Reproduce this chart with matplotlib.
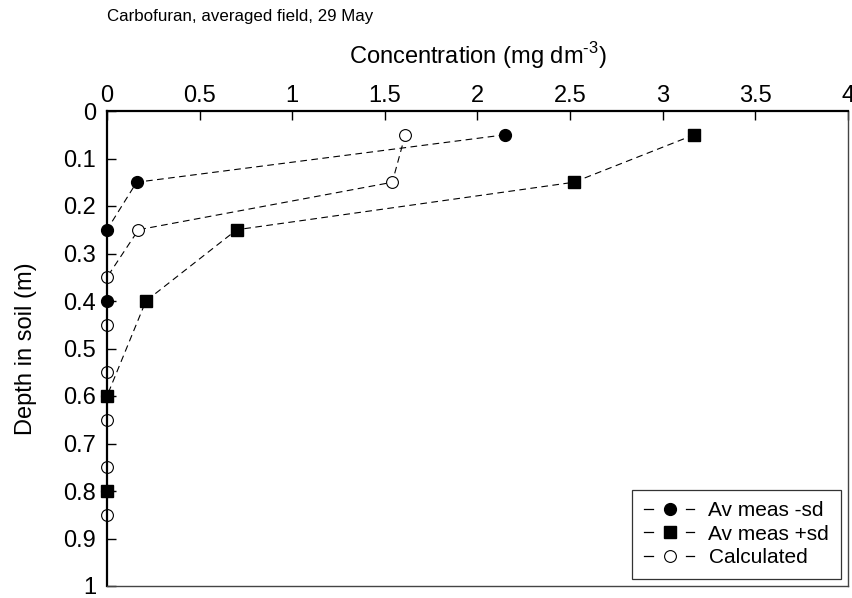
import matplotlib
matplotlib.use("Agg")
import matplotlib.pyplot as plt
from matplotlib.legend_handler import HandlerBase
from matplotlib.lines import Line2D
import numpy as np

plt.rcParams.update({
    "font.family": ["Liberation Sans", "DejaVu Sans"],
    "mathtext.fontset": "custom",
    "mathtext.rm": "Liberation Sans",
})

# depth (m) and concentration (mg dm-3)
depth_minus = [0.05, 0.15, 0.25, 0.4, 0.6, 0.8]
conc_minus = [2.15, 0.16, 0.0, 0.0, 0.0, 0.0]

depth_plus = [0.05, 0.15, 0.25, 0.4, 0.6, 0.8]
conc_plus = [3.17, 2.52, 0.70, 0.21, 0.0, 0.0]

depth_calc = [0.05, 0.15, 0.25, 0.35, 0.45, 0.55, 0.65, 0.75, 0.85]
conc_calc = [1.61, 1.54, 0.17, 0.0, 0.0, 0.0, 0.0, 0.0, 0.0]

x_ticks = [0, 0.5, 1, 1.5, 2, 2.5, 3, 3.5, 4]
y_ticks = np.round(np.arange(0, 1.01, 0.1), 1)


class DashMarkerHandler(HandlerBase):
    """Legend key drawn as: short dash, marker, short dash."""

    def create_artists(self, legend, orig_handle, xdescent, ydescent,
                       width, height, fontsize, trans):
        y = height / 2 - ydescent
        x0 = -xdescent
        left = Line2D([x0, x0 + width * 0.18], [y, y],
                      color="black", linewidth=0.9)
        right = Line2D([x0 + width * 0.84, x0 + width], [y, y],
                       color="black", linewidth=0.9)
        mark = Line2D([x0 + width * 0.52], [y], linestyle="none",
                      marker=orig_handle.get_marker(),
                      markersize=orig_handle.get_markersize(),
                      markerfacecolor=orig_handle.get_markerfacecolor(),
                      markeredgecolor="black",
                      markeredgewidth=orig_handle.get_markeredgewidth())
        for a in (left, right, mark):
            a.set_transform(trans)
        return [left, right, mark]


fig = plt.figure(figsize=(8.53, 5.98), dpi=100)
ax = fig.add_axes([107 / 853, 12 / 598, 741 / 853, 475 / 598])

line_kw = dict(color="black", linestyle=(0, (6, 4)), linewidth=0.8,
               markersize=8.5, clip_on=False)
h1, = ax.plot(conc_minus, depth_minus, marker="o", markerfacecolor="black",
              label="Av meas -sd", **line_kw)
h2, = ax.plot(conc_plus, depth_plus, marker="s", markerfacecolor="black",
              label="Av meas +sd", **line_kw)
h3, = ax.plot(conc_calc, depth_calc, marker="o", markerfacecolor="white",
              markeredgewidth=0.8, label="Calculated", **line_kw)

ax.set_xlim(0, 4)
ax.set_ylim(1, 0)
ax.xaxis.tick_top()
ax.xaxis.set_label_position("top")
ax.set_xticks(x_ticks)
ax.set_xticklabels([f"{t:g}" for t in x_ticks])
ax.set_yticks(y_ticks)
ax.set_yticklabels([f"{t:g}" for t in y_ticks])
ax.tick_params(direction="in", length=6.5, width=1, labelsize=17)
ax.tick_params(axis="x", pad=3)
ax.tick_params(axis="y", pad=8)
for side in ("top", "left"):
    ax.spines[side].set_linewidth(1.6)
for side in ("bottom", "right"):
    ax.spines[side].set_linewidth(1.0)
    ax.spines[side].set_color("#444444")

ax.set_xlabel(r"Concentration (mg dm$^{\text{-3}}$)", fontsize=17, labelpad=15)
ax.set_ylabel("Depth in soil (m)", fontsize=17, labelpad=18.5)

fig.text(107 / 853, 1 - 17 / 598, "Carbofuran, averaged field, 29 May",
         fontsize=12.2, va="center", ha="left")

leg = ax.legend(handles=[h1, h2, h3], loc="lower right", fontsize=15,
                frameon=True, fancybox=False, edgecolor="black",
                handler_map={Line2D: DashMarkerHandler()},
                handlelength=2.4, handletextpad=0.7, borderpad=0.55,
                labelspacing=0.22, borderaxespad=0.35)
leg.get_frame().set_linewidth(0.9)

fig.savefig("out.png", dpi=100)
